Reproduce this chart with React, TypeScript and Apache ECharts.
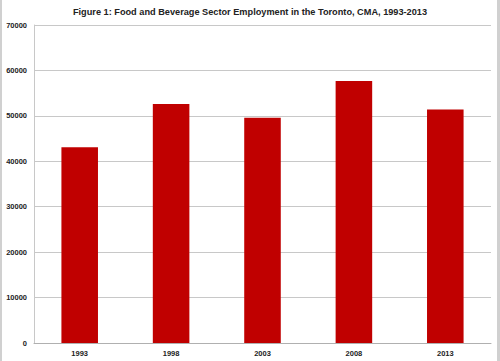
import React, { useEffect, useRef } from "react";
import * as echarts from "echarts";

const years = ["1993", "1998", "2003", "2008", "2013"];
const employment = [43100, 52600, 49600, 57700, 51400];
const titleText = "Figure 1: Food and Beverage Sector Employment in the Toronto, CMA, 1993-2013";

export default function App() {
  const ref = useRef<HTMLDivElement>(null);
  useEffect(() => {
    if (!ref.current) return;
    const chart = echarts.init(ref.current, undefined, { renderer: "svg" });
    chart.setOption({
      animation: false,
      backgroundColor: "#ffffff",
      title: {
        text: titleText,
        left: "center",
        top: 2,
        textStyle: {
          fontFamily: "Liberation Sans",
          fontWeight: "bold",
          fontSize: 9.2,
          color: "#222",
        },
      },
      grid: { left: 34, right: 9, top: 25, bottom: 18 },
      xAxis: {
        type: "category",
        data: years,
        axisLine: { lineStyle: { color: "#b0b0b0", width: 1 } },
        axisTick: { show: false },
        axisLabel: {
          fontFamily: "Liberation Sans",
          fontWeight: "bold",
          fontSize: 7.5,
          color: "#222",
          margin: 6,
        },
      },
      yAxis: {
        type: "value",
        min: 0,
        max: 70000,
        interval: 10000,
        axisLine: { show: true, lineStyle: { color: "#c8c8c8", width: 1 } },
        axisTick: { show: false },
        splitLine: { lineStyle: { color: "#c8c8c8", width: 1 } },
        axisLabel: {
          fontFamily: "Liberation Sans",
          fontWeight: "bold",
          fontSize: 7.5,
          color: "#222",
          margin: 7,
          formatter: (v: number) => String(v),
        },
      },
      series: [
        {
          type: "bar",
          data: employment,
          barWidth: "40%",
          itemStyle: { color: "#c00000" },
        },
      ],
      graphic: [
        { type: "rect", shape: { x: 0, y: 0, width: 2, height: 361 }, style: { fill: "#d0d0d0" } },
        { type: "rect", shape: { x: 497, y: 0, width: 3, height: 361 }, style: { fill: "#d0d0d0" } },
      ],
    });
    return () => chart.dispose();
  }, []);
  return <div ref={ref} style={{ width: 500, height: 361, position: "absolute", left: 0, top: 0 }} />;
}
